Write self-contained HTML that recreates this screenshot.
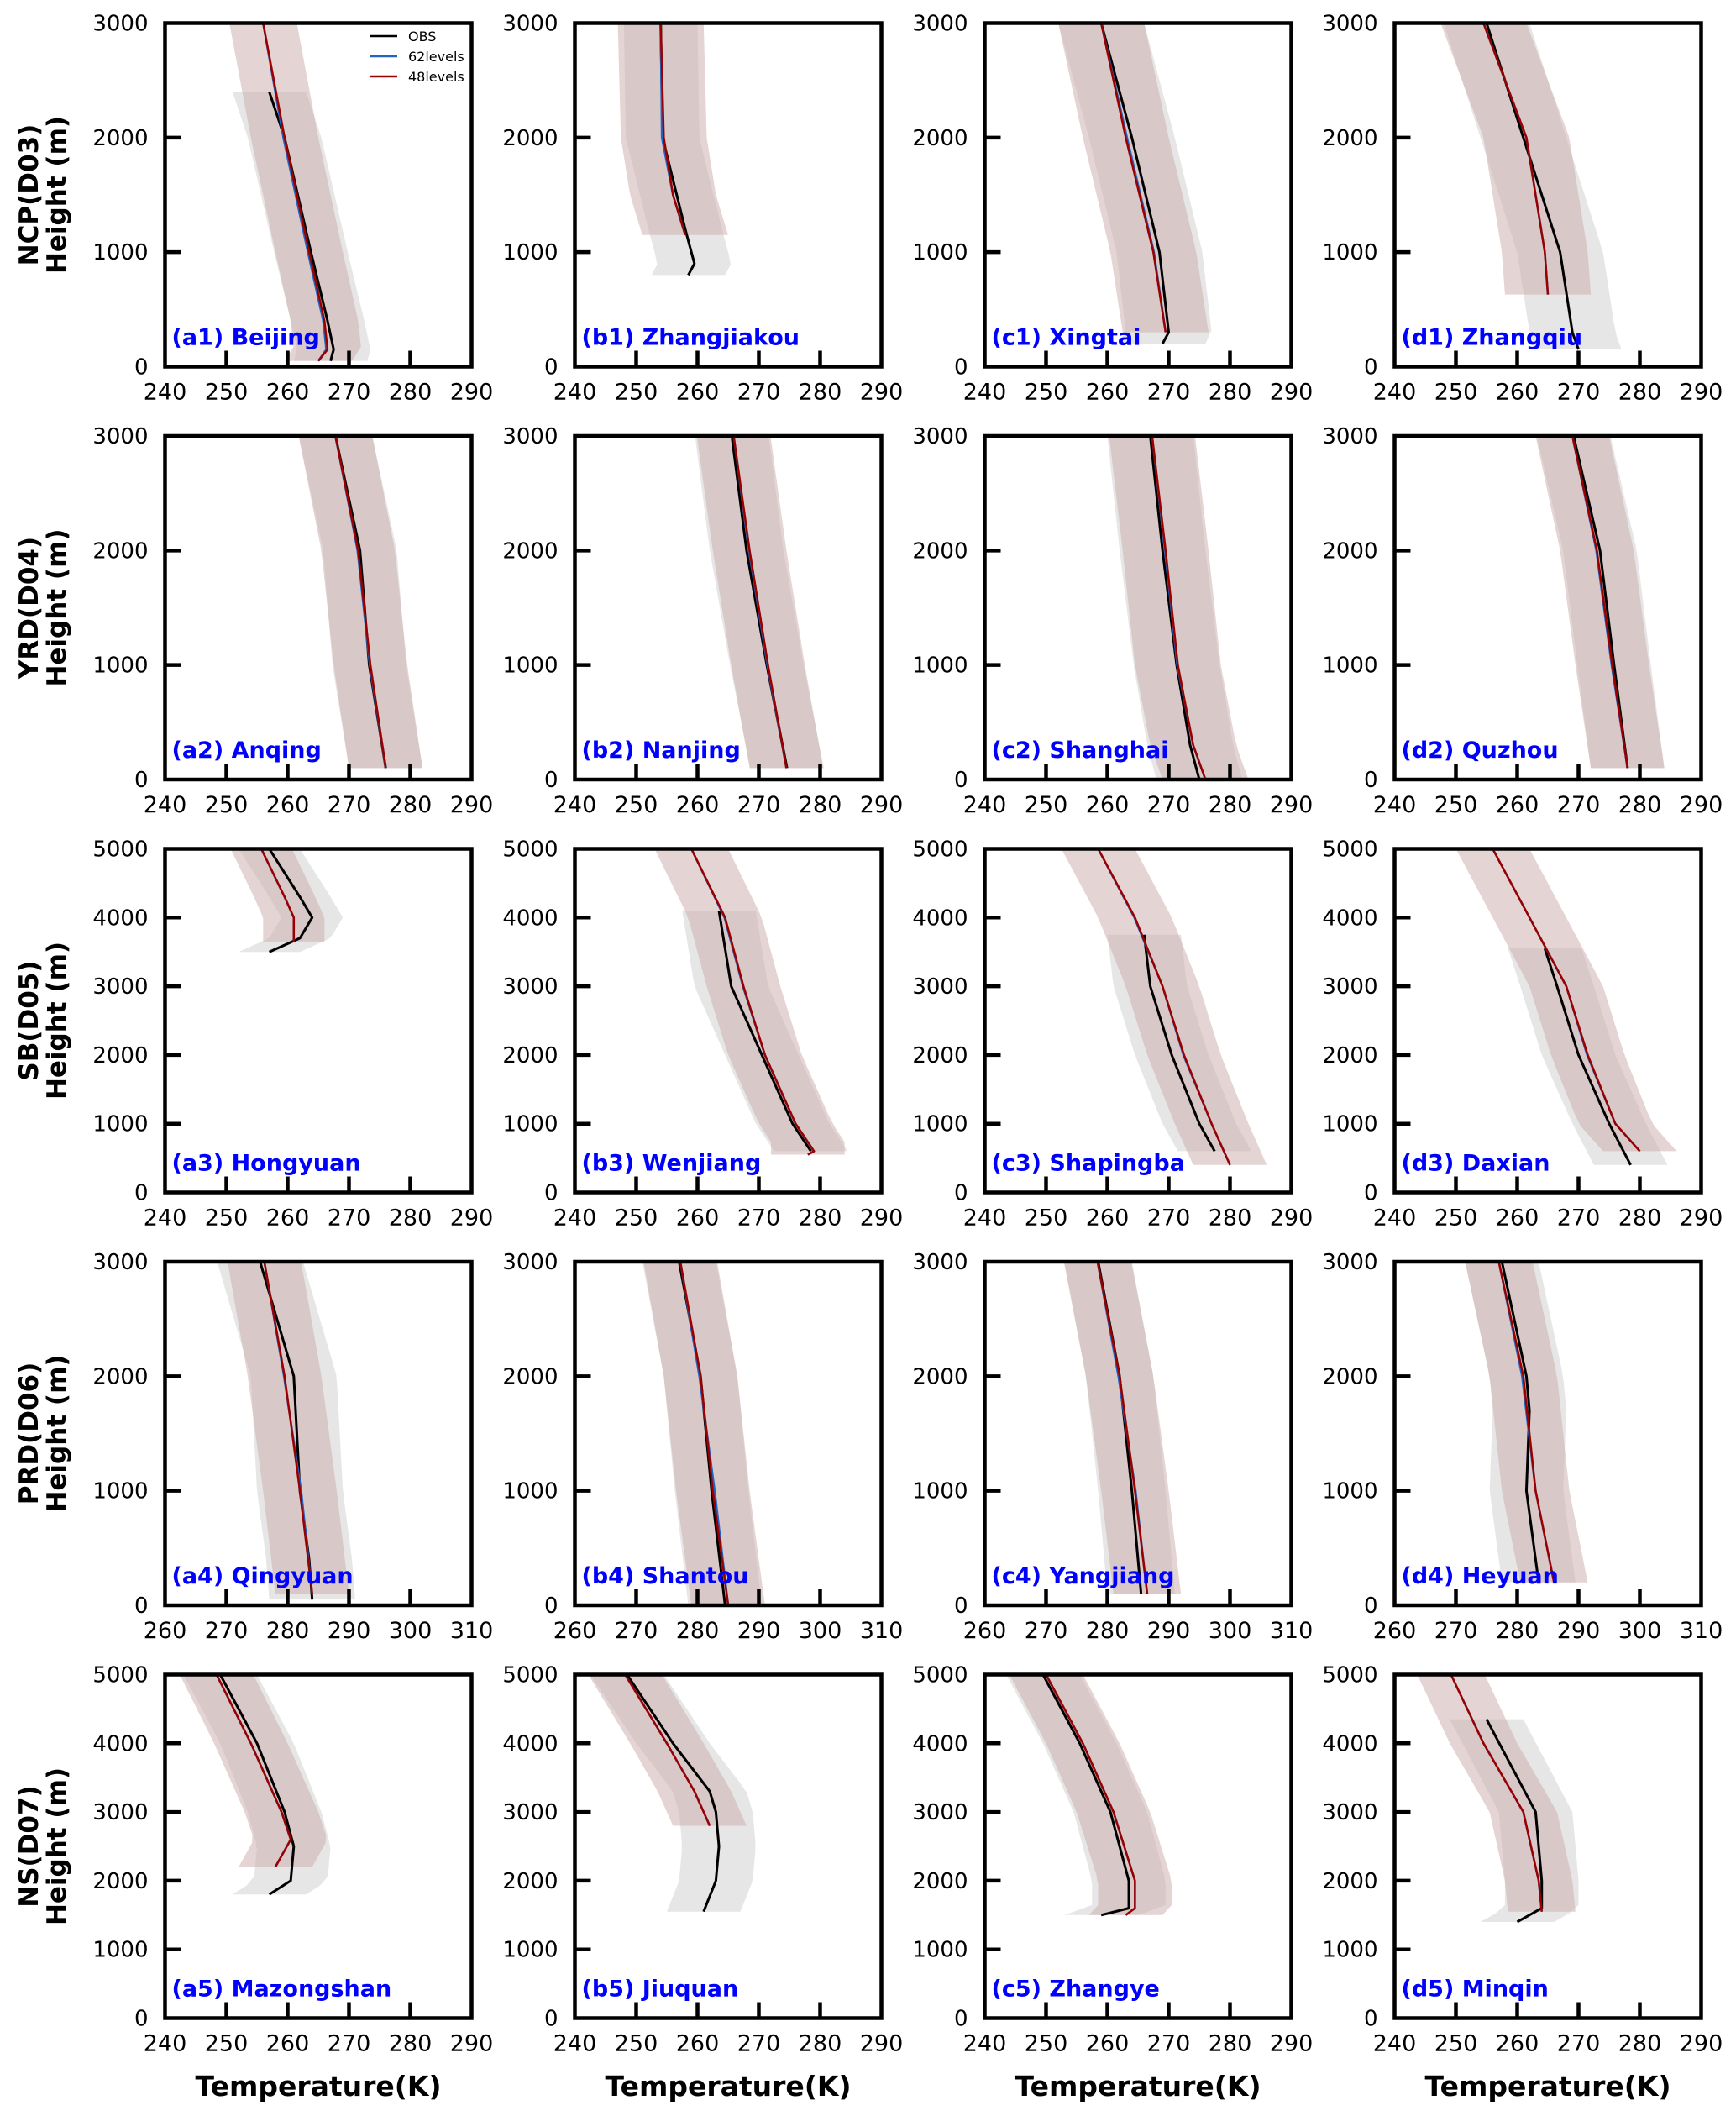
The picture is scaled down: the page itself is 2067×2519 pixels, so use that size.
<!DOCTYPE html>
<html><head><meta charset="utf-8"><style>
html,body{margin:0;padding:0;background:#fff;}
svg{display:block;}
text{font-family:"DejaVu Sans","Liberation Sans",sans-serif;}
</style></head><body>
<svg id="fig" width="2067" height="2519" viewBox="0 0 2067 2519" xmlns="http://www.w3.org/2000/svg"></svg>
<script>
// ---- data ----
const panelIds = ["a1","b1","c1","d1","a2","b2","c2","d2","a3","b3","c3","d3","a4","b4","c4","d4","a5","b5","c5","d5"];
const stationNames = ["Beijing","Zhangjiakou","Xingtai","Zhangqiu","Anqing","Nanjing","Shanghai","Quzhou","Hongyuan","Wenjiang","Shapingba","Daxian","Qingyuan","Shantou","Yangjiang","Heyuan","Mazongshan","Jiuquan","Zhangye","Minqin"];
const rowTitles = ["NCP(D03)","YRD(D04)","SB(D05)","PRD(D06)","NS(D07)"];
const rowYMax = [3000,3000,5000,3000,5000];
const rowXMin = [240,240,240,260,240];
const yTicks3000 = [0,1000,2000,3000];
const yTicks5000 = [0,1000,2000,3000,4000,5000];
const xTickOffsets = [0,10,20,30,40,50];
// model (48 levels) profiles: [height, T]
const modelProfiles = [
 [[3000,256],[2000,259.5],[1000,263.5],[400,266],[150,266.5],[50,265]],
 [[3000,254],[2000,254.5],[1500,256],[1150,258]],
 [[3000,259],[2000,263],[1000,267.5],[300,269.5]],
 [[3000,254.5],[2000,261.5],[1000,264.5],[630,265]],
 [[3000,267.8],[2000,271.5],[1000,273.5],[100,276]],
 [[3000,265.9],[2000,268.5],[1000,271.5],[100,274.5]],
 [[3000,267.3],[2000,269.5],[1000,271.5],[300,274],[0,276]],
 [[3000,269],[2000,273],[1000,275.5],[100,278]],
 [[5000,255.7],[4300,259.5],[4000,261],[3650,261]],
 [[5000,259],[4000,264.5],[3000,267.5],[2000,271],[1000,276],[600,279],[550,278]],
 [[5000,258.5],[4000,264.5],[3000,269],[2000,272.5],[1000,277],[400,280]],
 [[5000,256],[4000,262],[3000,268],[2000,271.5],[1000,276],[600,280]],
 [[3000,276.2],[2000,279.5],[1000,282],[100,284]],
 [[3000,277.2],[2000,280.5],[1000,282.5],[0,285]],
 [[3000,278.4],[2000,282],[1000,284.5],[100,286.5]],
 [[3000,277],[2000,281],[1000,283],[200,286]],
 [[5000,248.4],[4000,254],[3000,259],[2600,260.5],[2200,258]],
 [[5000,248.2],[4000,255],[3300,259.5],[2800,262]],
 [[5000,250],[4000,256],[3000,261],[2000,264.5],[1600,264.5],[1500,263]],
 [[5000,249.2],[4000,254.5],[3000,261],[2000,263.5],[1550,264]]
];
// 62-level profiles (nearly identical to 48 levels)
const model62Profiles = [
 [[3000,256],[2000,259.3],[1000,263.3],[400,265.8],[150,266.3],[50,265]],
 [[3000,254],[2000,254.2],[1500,256],[1150,258]],
 [[3000,259],[2000,263.2],[1000,267.6],[300,269.5]],
 [[3000,254.5],[2000,261.5],[1000,264.5],[630,265]],
 [[3000,267.8],[2000,271.4],[1000,273.4],[100,276]],
 [[3000,265.9],[2000,268.4],[1000,271.4],[100,274.5]],
 [[3000,267.3],[2000,269.4],[1000,271.4],[300,274],[0,276]],
 [[3000,269],[2000,272.9],[1000,275.4],[100,278]],
 [[5000,255.7],[4300,259.5],[4000,261],[3650,261]],
 [[5000,259],[4000,264.4],[3000,267.4],[2000,271],[1000,276],[600,279],[550,278]],
 [[5000,258.5],[4000,264.4],[3000,269],[2000,272.4],[1000,277],[400,280]],
 [[5000,256],[4000,262],[3000,268],[2000,271.4],[1000,276],[600,280]],
 [[3000,276.2],[2000,279.4],[1000,282.2],[100,284]],
 [[3000,277.2],[2000,280.3],[1000,282.8],[0,285]],
 [[3000,278.4],[2000,281.8],[1000,284.6],[100,286.5]],
 [[3000,277],[2000,280.8],[1000,283],[200,286]],
 [[5000,248.4],[4000,254],[3000,259],[2600,260.5],[2200,258]],
 [[5000,248.2],[4000,255],[3300,259.5],[2800,262]],
 [[5000,250],[4000,256],[3000,261],[2000,264.5],[1600,264.5],[1500,263]],
 [[5000,249.2],[4000,254.5],[3000,261],[2000,263.5],[1550,264]]
];
const obsProfiles = [
 [[2400,257],[2000,259.5],[1000,263.8],[400,266.5],[150,267.5],[50,267]],
 [[3000,254],[2000,254.3],[1200,258],[900,259.5],[800,258.5]],
 [[3000,259],[2000,264],[1000,268.5],[300,270],[200,269]],
 [[3000,255],[2000,261],[1000,267],[300,269],[150,270]],
 [[3000,267.8],[2000,271.8],[1000,273.3],[100,276]],
 [[3000,265.6],[2000,268],[1000,271.3],[100,274.6]],
 [[3000,267],[2000,269],[1000,271.3],[300,273.5],[0,275]],
 [[3000,269.2],[2000,273.5],[1000,275.8],[100,278]],
 [[5000,257],[4300,262],[4000,264],[3700,262],[3500,257]],
 [[4100,263.5],[3000,265.5],[2000,270.5],[1000,275.5],[600,278.5]],
 [[3750,266],[3000,267],[2000,270.5],[1000,275],[600,277.5]],
 [[3550,264.5],[3000,266.5],[2000,270],[1000,275],[400,278.5]],
 [[3000,275.5],[2000,281],[1000,282],[400,283.5],[50,284]],
 [[3000,277],[2000,280.5],[1000,282.3],[0,284.5]],
 [[3000,278.5],[2000,282],[1000,284],[100,285.5]],
 [[3000,277.5],[2000,281.5],[1700,282],[1000,281.5],[200,283.5]],
 [[5000,249],[4000,255],[3000,259.5],[2500,261],[2000,260.5],[1800,257]],
 [[5000,248.5],[4000,256],[3300,262],[3000,263],[2500,263.5],[2000,263],[1550,261]],
 [[5000,249.5],[4000,255.5],[3000,260.5],[2000,263.5],[1600,263.5],[1500,259]],
 [[4350,255],[3000,263],[2000,264],[1600,264],[1400,260]]
];
const modelSpread = [5.5,7,7,7,6,6,7,6,5,6,6,6,6,6,5.5,5.5,6,6,6,5.5];
const obsSpread = [6,6,7,7,6,6,7,6,5,6,6,6,7,6,5.5,6,6,6,6,6];

// ---- layout ----
const svg = document.getElementById('fig');
const NS = 'http://www.w3.org/2000/svg';
const colLeft = [196.5,684.5,1172.5,1660.5];
const rowTop = [27.5,519,1010.5,1502,1993.5];
const PW = 365, PH = 409;
function mk(tag, attrs, parent){const e=document.createElementNS(NS,tag);for(const k in attrs)e.setAttribute(k,attrs[k]);(parent||svg).appendChild(e);return e;}

function interp(prof, h){
  for(let i=0;i<prof.length-1;i++){const a=prof[i],b=prof[i+1];
    if((h<=a[0]&&h>=b[0])){const t=(a[0]-h)/(a[0]-b[0]||1);return a[1]+t*(b[1]-a[1]);}}
  return prof[prof.length-1][1];
}
function bandPath(prof, hw, xs, ys){
  const top=prof[0][0], bot=prof[prof.length-1][0];
  const left=[],right=[];const n=24;
  for(let i=0;i<=n;i++){const h=top-(top-bot)*i/n;const T=interp(prof,h);
    right.push(xs(T+hw)+','+ys(h));left.push(xs(T-hw)+','+ys(h));}
  return 'M'+right.join(' L')+' L'+left.reverse().join(' L')+' Z';
}
function linePath(prof, xs, ys){return 'M'+prof.map(p=>xs(p[1])+','+ys(p[0])).join(' L');}

panelIds.forEach((id,i)=>{
  const r=Math.floor(i/4), c=i%4;
  const x0=colLeft[c], y0=rowTop[r];
  const xMin=rowXMin[r], yMax=rowYMax[r];
  const xs=T=>x0+(T-xMin)/50*PW;
  const ys=h=>y0+PH-h/yMax*PH;
  const g=mk('g',{});
  
  
  const clipId='clip'+id;
  const cp=mk('clipPath',{id:clipId},g);mk('rect',{x:x0,y:y0,width:PW,height:PH},cp);
  const pg=mk('g',{'clip-path':'url(#'+clipId+')'},g);
  const ob=mk('path',{d:bandPath(obsProfiles[i],obsSpread[i],xs,ys),fill:'#e2e2e2',opacity:'0.85'},pg);
  
  
  const mb=mk('path',{d:bandPath(modelProfiles[i],modelSpread[i],xs,ys),fill:'#c9a9a9',opacity:'0.5'},pg);
  
  
  const ol=mk('path',{d:linePath(obsProfiles[i],xs,ys),fill:'none',stroke:'#000','stroke-width':3,'stroke-linejoin':'round'},pg);
  
  
  const bl=mk('path',{d:linePath(model62Profiles[i],xs,ys),fill:'none',stroke:'#1f64c8','stroke-width':2.5,'stroke-linejoin':'round'},pg);
  
  
  const rl=mk('path',{d:linePath(modelProfiles[i],xs,ys),fill:'none',stroke:'#9b0000','stroke-width':2.5,'stroke-linejoin':'round'},pg);
  
  
  // ticks
  const yt = yMax===3000?yTicks3000:yTicks5000;
  yt.forEach(v=>{
    if(v>0&&v<yMax) mk('line',{x1:x0,x2:x0+19,y1:ys(v),y2:ys(v),stroke:'#000','stroke-width':4.5},g);
    const t=mk('text',{x:x0-20,y:ys(v)+9,'text-anchor':'end','font-size':26},g);t.textContent=v;
    
    
  });
  xTickOffsets.forEach(o=>{
    const v=xMin+o;
    if(o>0&&o<50) mk('line',{x1:xs(v),x2:xs(v),y1:y0+PH,y2:y0+PH-19,stroke:'#000','stroke-width':4.5},g);
    const t=mk('text',{x:xs(v),y:y0+PH+39,'text-anchor':'middle','font-size':27},g);t.textContent=v;
    
    
  });
  const fr=mk('rect',{x:x0,y:y0,width:PW,height:PH,fill:'none',stroke:'#000','stroke-width':4.5},g);
  
  
  const lb=mk('text',{x:x0+8,y:y0+PH-26,'font-size':27,'font-weight':'bold',fill:'#0000ff'},g);
  lb.textContent='('+id+') '+stationNames[i];
  
  
  if(c===0){
    const cy=y0+PH/2;
    const t1=mk('text',{x:0,y:0,'font-size':31,'font-weight':'bold','text-anchor':'middle',transform:'translate(45,'+cy+') rotate(-90)'},g);
    t1.textContent=rowTitles[r];
    
    
    const t2=mk('text',{x:0,y:0,'font-size':31,'font-weight':'bold','text-anchor':'middle',transform:'translate(78,'+cy+') rotate(-90)'},g);
    t2.textContent='Height (m)';
    
    
  }
  if(r===4){
    const t=mk('text',{x:x0+PW/2,y:2495,'font-size':33,'font-weight':'bold','text-anchor':'middle'},g);
    t.textContent='Temperature(K)';
    
    
  }
});
// legend
const legendLabels=["OBS","62levels","48levels"];
const legendColors=["#000","#1f64c8","#9b0000"];
const lg=mk('g',{});


legendLabels.forEach((s,k)=>{
  const y=43+k*24;
  mk('line',{x1:440,x2:473,y1:y,y2:y,stroke:legendColors[k],'stroke-width':2.5},lg);
  const t=mk('text',{x:486,y:y+6,'font-size':16},lg);t.textContent=s;
  
  
});
</script>
</body></html>
